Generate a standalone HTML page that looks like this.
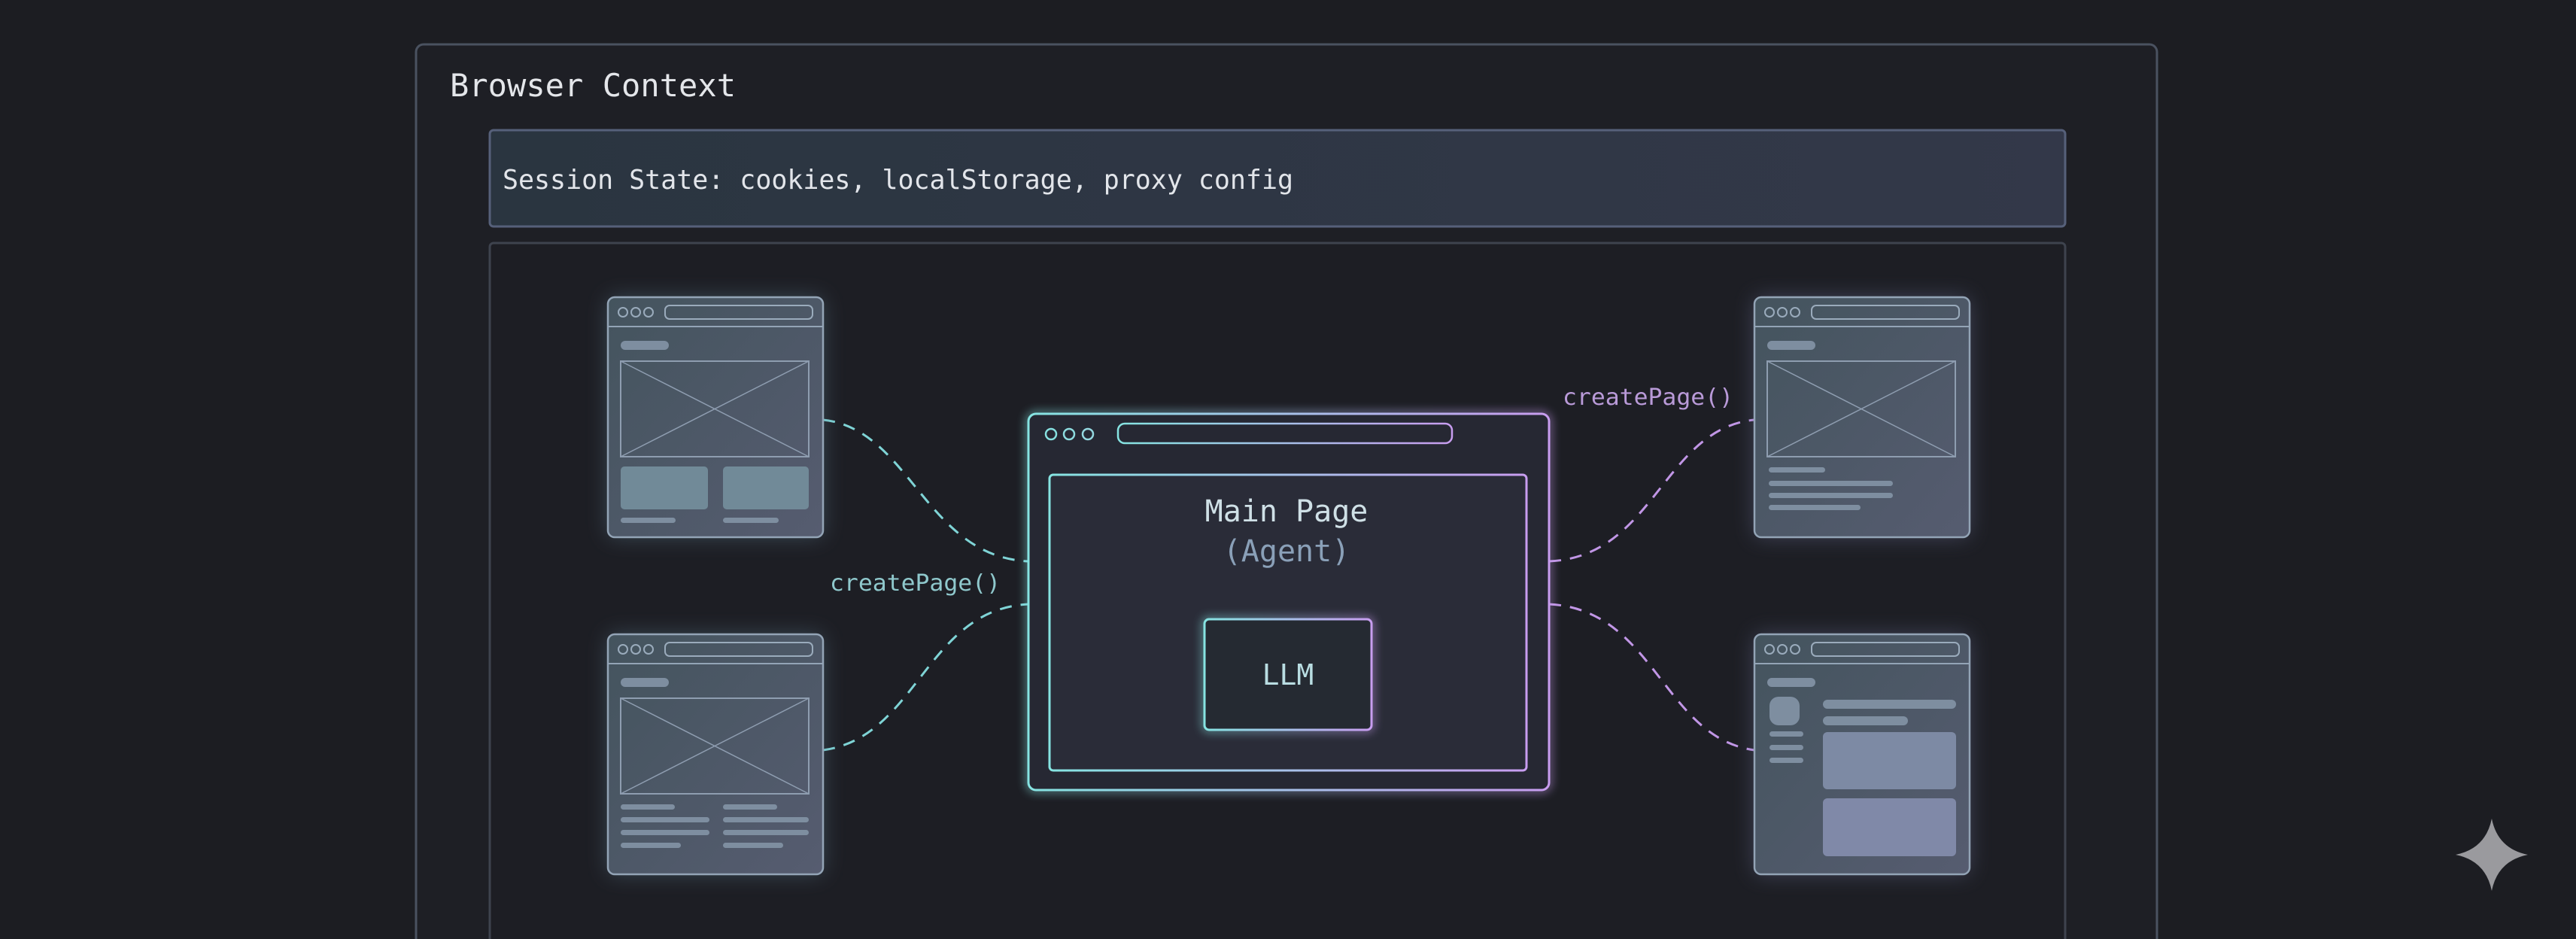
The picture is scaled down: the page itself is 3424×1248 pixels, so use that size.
<!DOCTYPE html>
<html><head><meta charset="utf-8"><style>
html,body{margin:0;padding:0;background:#1c1d22;}
svg{display:block}
text{font-family:"DejaVu Sans Mono","Liberation Mono",monospace;}
</style></head><body>
<svg width="3424" height="1248" viewBox="0 0 3424 1248" xmlns="http://www.w3.org/2000/svg">
<defs>
<linearGradient id="mg" x1="0" y1="0" x2="1" y2="0">
<stop offset="0" stop-color="#86e4e2"/><stop offset="1" stop-color="#c89df0"/></linearGradient>
<linearGradient id="mini" x1="0" y1="0" x2="1" y2="1">
<stop offset="0" stop-color="#44545e"/><stop offset="1" stop-color="#565c70"/></linearGradient>
<linearGradient id="sess" x1="0" y1="0" x2="1" y2="0">
<stop offset="0" stop-color="#2a3540"/><stop offset="1" stop-color="#333849"/></linearGradient>
<filter id="glow" x="-30%" y="-30%" width="160%" height="160%"><feGaussianBlur stdDeviation="14"/></filter>
<filter id="glow2" x="-30%" y="-30%" width="160%" height="160%"><feGaussianBlur stdDeviation="6"/></filter>
<g id="chrome">
<rect x="0" y="0" width="286" height="319" rx="9" fill="url(#mini)" stroke="#93a4b6" stroke-width="2.5"/>
<line x1="0" y1="39" x2="286" y2="39" stroke="#93a4b6" stroke-width="2"/>
<circle cx="20" cy="20" r="6" fill="none" stroke="#9aabbc" stroke-width="2"/>
<circle cx="37" cy="20" r="6" fill="none" stroke="#9aabbc" stroke-width="2"/>
<circle cx="54" cy="20" r="6" fill="none" stroke="#9aabbc" stroke-width="2"/>
<rect x="76" y="11" width="196" height="18" rx="6" fill="none" stroke="#9aabbc" stroke-width="2"/>
<rect x="17" y="58" width="64" height="12" rx="6" fill="#7e8ea0"/>
</g>
<g id="xbox">
<rect x="17" y="85" width="250" height="127" fill="none" stroke="#8e9db0" stroke-width="2"/>
<line x1="17" y1="85" x2="267" y2="212" stroke="#8e9db0" stroke-width="1.5"/>
<line x1="267" y1="85" x2="17" y2="212" stroke="#8e9db0" stroke-width="1.5"/>
</g>
</defs>

<rect x="553" y="59" width="2314" height="1230" rx="10" fill="#1e1f25" stroke="#4a5260" stroke-width="3"/>
<text x="598" y="128" font-size="42" fill="#e4e6ea" textLength="380">Browser Context</text>
<rect x="651" y="173" width="2094" height="128" rx="5" fill="url(#sess)" stroke="#56607a" stroke-width="3"/>
<text x="668" y="251" font-size="36" fill="#e2e5ea" textLength="1051" lengthAdjust="spacingAndGlyphs">Session State: cookies, localStorage, proxy config</text>
<rect x="651" y="323" width="2094" height="960" rx="5" fill="#1d1e24" stroke="#3e434e" stroke-width="3"/>

<g fill="none" stroke-width="3" stroke-dasharray="16 12">
<path d="M1094 558 C1210 570 1230 740 1367 746" stroke="#7fd4d6"/>
<path d="M1094 997 C1220 980 1230 810 1367 803" stroke="#7fd4d6"/>
<path d="M2059 746 C2200 740 2210 570 2332 558" stroke="#c196e6"/>
<path d="M2059 803 C2200 810 2210 980 2332 997" stroke="#c196e6"/>
</g>
<text x="1103" y="785" font-size="30" fill="#8fc8cc" textLength="227" lengthAdjust="spacingAndGlyphs">createPage()</text>
<text x="2077" y="538" font-size="30" fill="#b99ad8" textLength="227" lengthAdjust="spacingAndGlyphs">createPage()</text>

<g filter="url(#glow)" opacity="0.45">
<rect x="808" y="395" width="286" height="319" rx="9" fill="#5b7a8c"/>
<rect x="808" y="843" width="286" height="319" rx="9" fill="#5b7a8c"/>
<rect x="2332" y="395" width="286" height="319" rx="9" fill="#6a6f94"/>
<rect x="2332" y="843" width="286" height="319" rx="9" fill="#6a6f94"/>
</g>

<g transform="translate(808,395)">
<use href="#chrome"/><use href="#xbox"/>
<rect x="17" y="225" width="116" height="57" rx="5" fill="#718a98"/>
<rect x="153" y="225" width="114" height="57" rx="5" fill="#718a98"/>
<rect x="17" y="293" width="73" height="7" rx="3.5" fill="#7e8ea0"/>
<rect x="153" y="293" width="74" height="7" rx="3.5" fill="#7e8ea0"/>
</g>
<g transform="translate(808,843)">
<use href="#chrome"/><use href="#xbox"/>
<rect x="17" y="226" width="72" height="7" rx="3.5" fill="#7e8ea0"/>
<rect x="17" y="243" width="118" height="7" rx="3.5" fill="#7e8ea0"/>
<rect x="17" y="260" width="118" height="7" rx="3.5" fill="#7e8ea0"/>
<rect x="17" y="277" width="80" height="7" rx="3.5" fill="#7e8ea0"/>
<rect x="153" y="226" width="72" height="7" rx="3.5" fill="#7e8ea0"/>
<rect x="153" y="243" width="114" height="7" rx="3.5" fill="#7e8ea0"/>
<rect x="153" y="260" width="114" height="7" rx="3.5" fill="#7e8ea0"/>
<rect x="153" y="277" width="80" height="7" rx="3.5" fill="#7e8ea0"/>
</g>
<g transform="translate(2332,395)">
<use href="#chrome"/><use href="#xbox"/>
<rect x="19" y="226" width="75" height="7" rx="3.5" fill="#7e8ea0"/>
<rect x="19" y="244" width="165" height="7" rx="3.5" fill="#7e8ea0"/>
<rect x="19" y="260" width="165" height="7" rx="3.5" fill="#7e8ea0"/>
<rect x="19" y="276" width="122" height="7" rx="3.5" fill="#7e8ea0"/>
</g>
<g transform="translate(2332,843)">
<use href="#chrome"/>
<rect x="20" y="83" width="40" height="38" rx="12" fill="#7e8ea0"/>
<rect x="20" y="129" width="45" height="7" rx="3.5" fill="#7e8ea0"/>
<rect x="20" y="147" width="45" height="7" rx="3.5" fill="#7e8ea0"/>
<rect x="20" y="164" width="45" height="7" rx="3.5" fill="#7e8ea0"/>
<rect x="91" y="87" width="177" height="12" rx="6" fill="#7e8ea0"/>
<rect x="91" y="109" width="113" height="12" rx="6" fill="#7e8ea0"/>
<rect x="91" y="130" width="177" height="76" rx="6" fill="#7d8aa4"/>
<rect x="91" y="218" width="177" height="77" rx="6" fill="#8089a8"/>
</g>

<rect x="1367" y="550" width="692" height="500" rx="10" fill="none" stroke="url(#mg)" stroke-width="6" filter="url(#glow2)" opacity="0.7"/>
<rect x="1367" y="550" width="692" height="500" rx="10" fill="#262833" stroke="url(#mg)" stroke-width="3"/>
<line x1="1367" y1="603" x2="2059" y2="603" stroke="url(#mg)" stroke-width="3"/>
<circle cx="1397" cy="577" r="7" fill="none" stroke="#86e0e0" stroke-width="2.5"/>
<circle cx="1421" cy="577" r="7" fill="none" stroke="#8ddcdf" stroke-width="2.5"/>
<circle cx="1446" cy="577" r="7" fill="none" stroke="#94d8e0" stroke-width="2.5"/>
<rect x="1486" y="563" width="444" height="26" rx="9" fill="none" stroke="url(#mg)" stroke-width="2.5"/>
<rect x="1395" y="631" width="634" height="393" rx="5" fill="#2a2c38" stroke="url(#mg)" stroke-width="3"/>
<text x="1710" y="693" font-size="40" fill="#cfe0e6" text-anchor="middle">Main Page</text>
<text x="1710" y="746" font-size="40" fill="#8aa0b8" text-anchor="middle">(Agent)</text>
<rect x="1601" y="823" width="222" height="147" rx="6" fill="none" stroke="url(#mg)" stroke-width="6" filter="url(#glow2)" opacity="0.7"/>
<rect x="1601" y="823" width="222" height="147" rx="6" fill="#252a32" stroke="url(#mg)" stroke-width="3"/>
<text x="1712" y="910" font-size="38" fill="#b9dde2" text-anchor="middle">LLM</text>

<path d="M3312 1088 Q3320 1128 3360 1136 Q3320 1144 3312 1184 Q3304 1144 3264 1136 Q3304 1128 3312 1088 Z" fill="#9a9a9e"/>
</svg>
</body></html>
